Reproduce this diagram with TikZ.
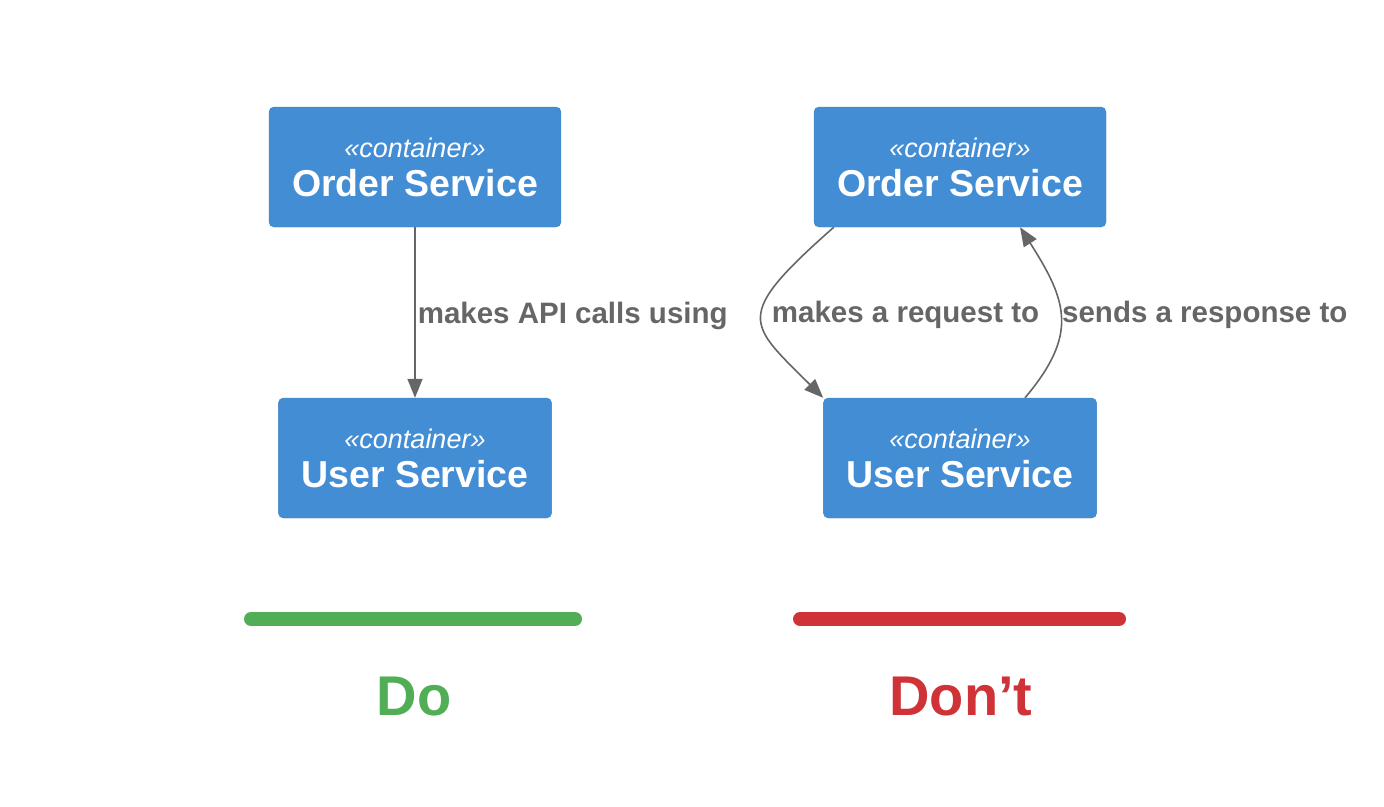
\documentclass[tikz,border=0pt]{standalone}
\usepackage{fontspec}
\setmainfont{Liberation Sans}
\usepackage{tikz}
\usetikzlibrary{arrows.meta}
\definecolor{c4blue}{HTML}{438DD5}
\definecolor{c4border}{HTML}{3C7FC0}
\definecolor{relgray}{HTML}{666666}
\definecolor{dogreen}{HTML}{52AE55}
\definecolor{dontred}{HTML}{CF3237}
\newcommand\ctr[1]{{\fontsize{27}{34}\selectfont\itshape «container»}\\[5pt]
  {\fontsize{37.5}{34}\selectfont\bfseries #1}}
\tikzset{
  container/.style={draw=c4border, fill=c4blue, rounded corners=5pt,
    text=white, align=center, minimum height=120pt, inner xsep=23pt,
    font=\fontsize{27}{34}\selectfont},
  rel/.style={draw=relgray, line width=1.6pt,
    -{Triangle[length=19pt, width=15pt]}},
  rellabel/.style={text=relgray, font=\bfseries\fontsize{29.5}{34}\selectfont},
  bar/.style={line width=14pt, line cap=round},
  verdict/.style={anchor=base, font=\bfseries\fontsize{56}{60}\selectfont},
}

\begin{document}
\begin{tikzpicture}[x=1pt, y=-1pt]
  \useasboundingbox (0,0) rectangle (1384,806);

  % Do
  \node[container] at (415,167) (order1) {\ctr{Order Service}};
  \node[container] at (415,458) (user1) {\ctr{User Service}};
  \draw[rel] (order1) -- (user1)
    node[midway, right, rellabel, inner xsep=2pt, yshift=-3pt]{makes API calls using};

  \draw[bar, dogreen] (251,619) -- (575,619);
  \node[verdict, text=dogreen] at (414,715) (do) {Do};

  % Don't
  \node[container] at (960,167) (order2) {\ctr{Order Service}};
  \node[container] at (960,458) (user2) {\ctr{User Service}};
  \draw[rel] ([xshift=20pt]order2.south west) .. controls +(-102,90)
    and +(-75,-75) .. (user2.north west)
    node[pos=.5, right, rellabel, inner xsep=9pt, yshift=3pt]{makes a request to};
  \draw[rel] ([xshift=65pt]user2.north) .. controls +(53,-63)
    and +(48,75) .. ([xshift=60pt]order2.south)
    node[pos=.5, right, rellabel, inner xsep=1pt, yshift=2pt]{sends a response to};

  \draw[bar, dontred] (800,619) -- (1119,619);
  \node[verdict, text=dontred] at (961,715) (dont) {Don’t};
\end{tikzpicture}
\end{document}
